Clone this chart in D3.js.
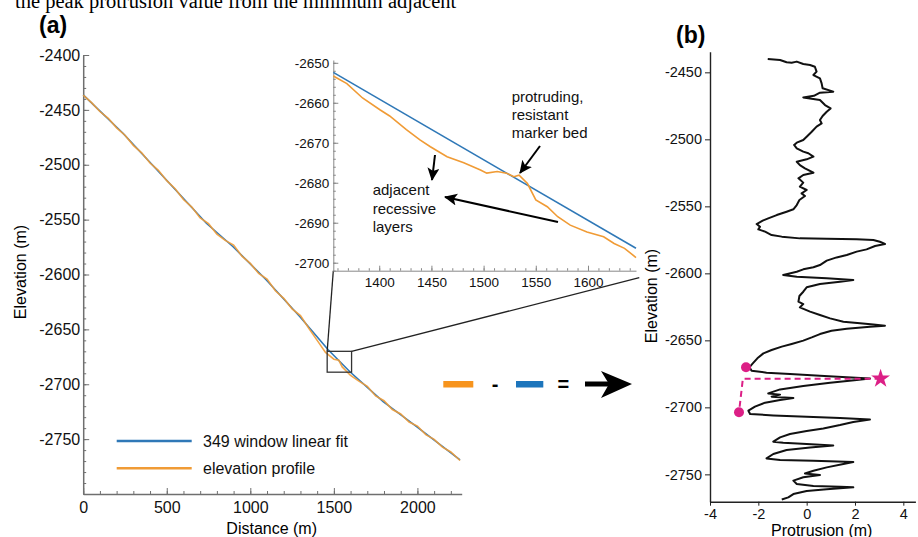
<!DOCTYPE html>
<html>
<head>
<meta charset="utf-8">
<script src="https://cdn.jsdelivr.net/npm/d3@7"></script>
<style>
body{margin:0;background:#fff;}
svg{display:block;font-family:"Liberation Sans",Arial,sans-serif;}
</style>
</head>
<body>
<svg id="fig"></svg>
<script>
//data
// panel (a) - main profile
var fitDist = [0,238,498,737,897,1096,1297,1466,1596,1795,1995,2255];
var fitElev = [-2436.4,-2471.3,-2513.9,-2553.3,-2574.7,-2605,-2638.5,-2668.6,-2688.6,-2715.9,-2738.7,-2769];
var profDist = [0,50,100,150,200,250,300,350,400,450,500,550,600,650,700,750,800,850,900,950,1000,1050,1100,1150,1200,1250,1300,1350,1400,1450,1500,1530,1550,1600,1650,1700,1750,1800,1850,1900,1950,2000,2050,2100,2150,2200,2255];
var profElev = [-2436.5,-2443.4,-2451.5,-2457.7,-2466.4,-2473.1,-2482.3,-2489.1,-2498.4,-2505.1,-2514.5,-2521.8,-2531.7,-2538.6,-2548.4,-2553.7,-2563.3,-2568.9,-2573.2,-2583.3,-2589.9,-2599,-2604.1,-2614.8,-2621.7,-2631.3,-2637.4,-2649,-2660,-2671,-2677.2,-2678.2,-2684.2,-2692,-2697.2,-2701.9,-2710.7,-2715,-2723,-2727.1,-2734.4,-2738.1,-2745.9,-2750.2,-2757.3,-2761.7,-2769.5];
var zoomBox = [1460,1606,-2670,-2689];  // x0,x1,y0,y1

// panel (a) - inset
var insetFitDist = [1356,1646];
var insetFitElev = [-2652.4,-2696.4];
var insetDist = [1356,1369,1384,1401,1410,1426,1439,1449,1465,1481,1497,1503,1513,1522,1529,1534,1542,1550,1561,1571,1583,1599,1615,1625,1635,1646];
var insetElev = [-2653.3,-2655.2,-2658.8,-2661.8,-2663.3,-2666.7,-2669.3,-2671,-2673.5,-2675,-2676.8,-2677.6,-2677.2,-2677.6,-2678.5,-2678.1,-2680.2,-2684.3,-2686,-2688.5,-2690.6,-2692.3,-2693.5,-2695.2,-2696.4,-2698.7];

// panel (b) - protrusion profile
var protrusion = [-1.61,-1.10,-0.83,-0.62,-0.41,-0.14,0.14,0.34,0.41,0.28,0.55,0.62,0.66,1.10,0.55,0.30,-0.14,0.55,0.76,0.99,0.83,0.66,0.55,0.62,0.41,0.21,0,-0.14,-0.41,-0.52,-0.41,-0.14,0.07,0.28,0,-0.41,-0.28,-0.07,0.28,-0.14,-0.34,-0.14,-0.28,0,-0.21,-0.07,-0.30,-0.41,-0.55,-0.83,-1.24,-1.59,-1.82,-2.07,-1.93,-2.0,-1.72,-1.45,-1.03,-0.28,0.83,2.07,2.76,3.03,3.24,2.83,2.48,2.07,1.66,1.24,0.83,0.55,0.28,-0.14,-0.41,-0.97,-0.41,0.83,1.93,1.38,0.55,0,-0.14,-0.30,-0.34,-0.14,-0.28,0.14,0.55,0.97,1.52,2.21,2.76,3.24,2.62,1.66,1.03,0.55,0.21,-0.14,-0.62,-1.03,-1.45,-1.79,-2.04,-2.23,-2.37,-2.28,-1.66,-0.69,0.55,1.66,2.62,2.07,0.97,-0.14,-1.10,-1.59,-1.10,-1.45,-0.55,-1.10,-1.72,-2.14,-2.41,-2.34,-1.38,0,1.38,2.62,1.93,1.38,0.69,0,-0.69,-1.10,-1.38,-0.97,0,1.10,0.14,-0.83,-1.38,-1.66,-1.10,0.28,1.93,1.52,0.83,0.28,-0.07,0.55,-0.14,-0.55,-0.41,0.28,1.38,1.93,0.83,0,-0.55,-0.76,-1.03];
var protElev = [-2440.0,-2440.8,-2442.5,-2442.8,-2442.0,-2443.8,-2444.5,-2445.8,-2449.5,-2452.0,-2454.5,-2458.2,-2461.9,-2464.4,-2465.2,-2467.5,-2468.7,-2470.6,-2474.4,-2476.9,-2479.4,-2482.6,-2485.6,-2488.1,-2490.5,-2494.3,-2498,-2500.5,-2502.5,-2504.2,-2506.7,-2509.2,-2510.4,-2512.9,-2514.9,-2516.7,-2519.2,-2521.6,-2524.9,-2526.6,-2529.1,-2532.3,-2535.3,-2537.8,-2540.3,-2542.3,-2545.3,-2549,-2552.2,-2554,-2556.5,-2559,-2560.7,-2563.2,-2565.2,-2567.2,-2568.9,-2571.4,-2572.6,-2573.9,-2574.1,-2574.6,-2575.1,-2576.4,-2578.1,-2579.6,-2582.1,-2583.8,-2586.3,-2588.1,-2590.5,-2593.8,-2595.5,-2597,-2598.8,-2601.2,-2602.5,-2603.7,-2605,-2606.2,-2608,-2610.4,-2613.7,-2616.9,-2621.1,-2622.9,-2625.4,-2628.6,-2631.1,-2633.6,-2636.1,-2637.3,-2638.1,-2639.1,-2639.8,-2641.3,-2642.8,-2645.3,-2647.8,-2650.2,-2652.7,-2654.7,-2657.2,-2659.7,-2663.4,-2667.2,-2670.1,-2672.6,-2674.1,-2675.1,-2676.4,-2677.6,-2678.4,-2679.6,-2681.6,-2684.1,-2686.6,-2689.6,-2690.5,-2692,-2693,-2694.5,-2696.5,-2699.5,-2702.5,-2705,-2706,-2707,-2708,-2709,-2710.9,-2713.2,-2715.7,-2717.7,-2719.9,-2722.4,-2725.6,-2726.4,-2727.4,-2728.4,-2729.9,-2731.8,-2734.8,-2738.1,-2739.3,-2739.8,-2740.8,-2742.3,-2744.8,-2747.3,-2749.3,-2750.5,-2752.2,-2754.7,-2757.2,-2758.7,-2759.2,-2759.7,-2761.2,-2762.4,-2764.7,-2767.2,-2768.7];
var minPts = [[-2.51,-2670.1],[-2.8,-2703.7]];
var peakPt = [3.06,-2678.6];
var dashCorner = [-2.64,-2678.6];

// tick labels
var aYTicks = [-2750,-2700,-2650,-2600,-2550,-2500,-2450,-2400];
var aXTicks = [0,500,1000,1500,2000];
var inYTicks = [-2700,-2690,-2680,-2670,-2660,-2650];
var inXTicks = [1400,1450,1500,1550,1600];
var bYTicks = [-2750,-2700,-2650,-2600,-2550,-2500,-2450];
var bXTicks = [-4,-2,0,2,4];

/*********colours************/
var blue = '#2f78b7';
var orange = '#f09b35';
var pink = '#dc1f86';

var width = 918, height = 537;
var svg = d3.select('#fig').attr('width',width).attr('height',height);
var plain = function(d){return String(d);};   //hyphen minus, no thousands comma
var defs = svg.append('defs');
defs.append('marker').attr('id','ah')
	.attr('markerUnits','userSpaceOnUse')
	.attr('markerWidth',14).attr('markerHeight',14)
	.attr('refX',12).attr('refY',6).attr('orient','auto')
	.append('path').attr('d','M0,0 L13,6 L0,12 L3,6 Z').attr('fill','#000');

//cut-off line of the paper text at the very top
svg.append('text').attr('x',15).attr('y',8)
	.style('font-family','"Liberation Serif","Times New Roman",serif')
	.style('font-size','20.5px')
	.text('the peak protrusion value from the minimum adjacent');

function styleAxis(g,col,fs){
	g.selectAll('path,line').attr('stroke',col);
	g.selectAll('text').attr('fill','#111').style('font-size',fs).style('font-family','"Liberation Sans",Arial,sans-serif');
}

/*********panel (a)************/
var xA = d3.scaleLinear().domain([0,2265]).range([83.2,461.7]);
var yA = d3.scaleLinear().domain([-2800,-2400]).range([494,55]);
var gA = svg.append('g');
var axGray = '#6f6f6f';

var yMinor = gA.append('g').attr('transform','translate(83.2,0)')
	.call(d3.axisLeft(yA).tickValues(d3.range(-2800,-2399,10)).tickSizeInner(-3).tickSizeOuter(0).tickFormat(''));
yMinor.select('.domain').remove();
styleAxis(yMinor,axGray,'16px');
var yMajor = gA.append('g').attr('transform','translate(83.2,0)')
	.call(d3.axisLeft(yA).tickValues(aYTicks).tickSizeInner(-6).tickSizeOuter(0).tickPadding(3).tickFormat(plain));
styleAxis(yMajor,axGray,'16px');
yMajor.select('.domain').attr('stroke-width',1.5);

var xMinor = gA.append('g').attr('transform','translate(0,494)')
	.call(d3.axisBottom(xA).tickValues(d3.range(0,2265,100)).tickSizeInner(-3).tickSizeOuter(0).tickFormat(''));
xMinor.select('.domain').remove();
styleAxis(xMinor,axGray,'16px');
var xMajor = gA.append('g').attr('transform','translate(0,494)')
	.call(d3.axisBottom(xA).tickValues(aXTicks).tickSizeInner(-6).tickSizeOuter(0).tickPadding(8).tickFormat(plain));
styleAxis(xMajor,axGray,'16px');
xMajor.select('.domain').attr('stroke-width',1.5);

gA.append('text').attr('x',271.7).attr('y',534).attr('text-anchor','middle')
	.style('font-size','16px').text('Distance (m)');
gA.append('text').attr('transform','translate(26,272) rotate(-90)').attr('text-anchor','middle')
	.style('font-size','16px').text('Elevation (m)');
gA.append('text').attr('x',39).attr('y',33).style('font-size','23px').style('font-weight','bold').text('(a)');

var lineA = d3.line().x(function(d){return xA(d[0]);}).y(function(d){return yA(d[1]);});
gA.append('path').datum(d3.zip(fitDist,fitElev)).attr('d',lineA)
	.attr('fill','none').attr('stroke',blue).attr('stroke-width',1.6);
gA.append('path').datum(d3.zip(profDist,profElev)).attr('d',lineA)
	.attr('fill','none').attr('stroke',orange).attr('stroke-width',1.6).attr('opacity',0.9);

//legend
var leg = [['349 window linear fit',blue],['elevation profile',orange]];
leg.forEach(function(l,i){
	var yy = 441 + i*27.3;
	gA.append('line').attr('x1',116.7).attr('x2',191.7).attr('y1',yy).attr('y2',yy)
		.attr('stroke',l[1]).attr('stroke-width',2.5);
	gA.append('text').attr('x',203).attr('y',yy+5.6).style('font-size','16px').attr('fill','#111').text(l[0]);
});

/*********inset************/
var xI = d3.scaleLinear().domain([1356,1646]).range([333.3,636]);
var yI = d3.scaleLinear().domain([-2702,-2649.3]).range([270.7,60]);
var gI = svg.append('g');
//zoom box and connectors
var bx0 = xA(zoomBox[0]), bx1 = xA(zoomBox[1]), by0 = yA(zoomBox[2]), by1 = yA(zoomBox[3]);
gI.append('rect').attr('x',bx0).attr('y',by0).attr('width',bx1-bx0).attr('height',by1-by0)
	.attr('fill','none').attr('stroke','#333').attr('stroke-width',1.3);
gI.append('line').attr('x1',bx0).attr('y1',by0).attr('x2',xI.range()[0]).attr('y2',yI.range()[0])
	.attr('stroke','#222').attr('stroke-width',1.3);
gI.append('line').attr('x1',bx1).attr('y1',by0).attr('x2',xI.range()[1]+3.3).attr('y2',yI.range()[0]+7)
	.attr('stroke','#222').attr('stroke-width',1.3);

var iyMinor = gI.append('g').attr('transform','translate(333.3,0)')
	.call(d3.axisLeft(yI).tickValues(d3.range(-2702,-2649,2)).tickSizeInner(-2.5).tickSizeOuter(0).tickFormat(''));
iyMinor.select('.domain').remove();
styleAxis(iyMinor,'#888','13.5px');
var iyMajor = gI.append('g').attr('transform','translate(333.3,0)')
	.call(d3.axisLeft(yI).tickValues(inYTicks).tickSizeInner(-5).tickSizeOuter(0).tickPadding(4).tickFormat(plain));
styleAxis(iyMajor,'#888','13.5px');
var ixMinor = gI.append('g').attr('transform','translate(0,270.7)')
	.call(d3.axisBottom(xI).tickValues(d3.range(1360,1646,10)).tickSizeInner(-2.5).tickSizeOuter(0).tickFormat(''));
ixMinor.select('.domain').remove();
styleAxis(ixMinor,'#888','13.5px');
var ixMajor = gI.append('g').attr('transform','translate(0,270.7)')
	.call(d3.axisBottom(xI).tickValues(inXTicks).tickSizeInner(-5).tickSizeOuter(0).tickPadding(6.5).tickFormat(plain));
styleAxis(ixMajor,'#888','13.5px');

var lineI = d3.line().x(function(d){return xI(d[0]);}).y(function(d){return yI(d[1]);});
gI.append('path').datum(d3.zip(insetFitDist,insetFitElev)).attr('d',lineI)
	.attr('fill','none').attr('stroke',blue).attr('stroke-width',1.6);
gI.append('path').datum(d3.zip(insetDist,insetElev)).attr('d',lineI)
	.attr('fill','none').attr('stroke',orange).attr('stroke-width',1.6);

//annotations
var note1 = ['protruding,','resistant','marker bed'];
note1.forEach(function(t,i){
	gI.append('text').attr('x',511.7).attr('y',101.7+i*18.3).style('font-size','15px').attr('fill','#111').text(t);
});
var note2 = ['adjacent','recessive','layers'];
note2.forEach(function(t,i){
	gI.append('text').attr('x',372.7).attr('y',195+i*18.5).style('font-size','15px').attr('fill','#111').text(t);
});
var arrows = [[540,146,520,173],[435,155,432,180],[558,222,445,197]];
arrows.forEach(function(a){
	gI.append('line').attr('x1',a[0]).attr('y1',a[1]).attr('x2',a[2]).attr('y2',a[3])
		.attr('stroke','#000').attr('stroke-width',2).attr('marker-end','url(#ah)');
});

/*********equation************/
var gE = svg.append('g');
gE.append('rect').attr('x',443.3).attr('y',381).attr('width',30).attr('height',6.5).attr('fill','#f7941d');
gE.append('text').attr('x',495).attr('y',391).attr('text-anchor','middle').style('font-size','20px').style('font-weight','bold').text('-');
gE.append('rect').attr('x',516).attr('y',381).attr('width',27.3).attr('height',6.5).attr('fill','#1c75bc');
gE.append('text').attr('x',563.3).attr('y',391).attr('text-anchor','middle').style('font-size','20px').style('font-weight','bold').text('=');
gE.append('rect').attr('x',585).attr('y',381.5).attr('width',25).attr('height',5).attr('fill','#000');
gE.append('path').attr('d','M632,384 L601,371 L609,384 L601,398 Z').attr('fill','#000');

/*********panel (b)************/
var xB = d3.scaleLinear().domain([-4,4.5]).range([710,915.4]);
var yB = d3.scaleLinear().domain([-2770.4,-2434.6]).range([501.7,51.7]);
var gB = svg.append('g');
var byAx = gB.append('g').attr('transform','translate(710,0)')
	.call(d3.axisLeft(yB).tickValues(bYTicks).tickSizeInner(5).tickSizeOuter(0).tickPadding(3).tickFormat(plain));
styleAxis(byAx,'#222','14.5px');
byAx.select('.domain').attr('stroke-width',1.4);
var bxAx = gB.append('g').attr('transform','translate(0,501.7)')
	.call(d3.axisBottom(xB).tickValues(bXTicks).tickSizeInner(4).tickSizeOuter(0).tickPadding(3).tickFormat(plain));
styleAxis(bxAx,'#222','14.5px');
bxAx.select('.domain').attr('stroke-width',1.4);

gB.append('text').attr('x',821.7).attr('y',535.5).attr('text-anchor','middle').style('font-size','16px').text('Protrusion (m)');
gB.append('text').attr('transform','translate(657,296) rotate(-90)').attr('text-anchor','middle')
	.style('font-size','16px').text('Elevation (m)');
gB.append('text').attr('x',676).attr('y',43).style('font-size','23px').style('font-weight','bold').text('(b)');

var lineB = d3.line().x(function(d){return xB(d[0]);}).y(function(d){return yB(d[1]);});
gB.append('path').datum(d3.zip(protrusion,protElev)).attr('d',lineB)
	.attr('fill','none').attr('stroke','#111').attr('stroke-width',2).attr('stroke-linejoin','round');

gB.append('path').datum([peakPt,dashCorner,minPts[1]]).attr('d',lineB)
	.attr('fill','none').attr('stroke',pink).attr('stroke-width',2).attr('stroke-dasharray','6,4');
gB.selectAll('circle.mn').data(minPts).enter().append('circle')
	.attr('cx',function(d){return xB(d[0]);}).attr('cy',function(d){return yB(d[1]);})
	.attr('r',5).attr('fill',pink);
gB.append('path').attr('d',d3.symbol(d3.symbolStar,110)())
	.attr('transform','translate('+xB(peakPt[0])+','+yB(peakPt[1])+')').attr('fill',pink);
</script>
</body>
</html>
